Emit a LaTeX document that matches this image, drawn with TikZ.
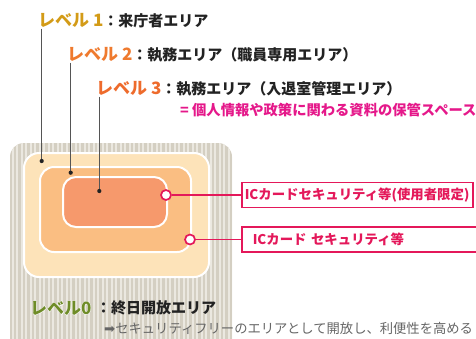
\documentclass[tikz,border=0pt]{standalone}
\usepackage{fontspec}
\setmainfont{Noto Sans CJK JP}
\newfontfamily\arrowfont{DejaVu Sans}
\newfontfamily\halofont{Noto Sans CJK JP}[UprightFont=* Bold, FakeBold=6]
\definecolor{goldc}{HTML}{D39B17}
\definecolor{orangeb}{HTML}{EF7A2E}
\definecolor{orangec}{HTML}{EE6B2C}
\definecolor{magentac}{HTML}{E5188A}
\definecolor{pinkc}{HTML}{E4185A}
\definecolor{lvA}{HTML}{FDE3B9}
\definecolor{lvB}{HTML}{FABE82}
\definecolor{lvC}{HTML}{F6996C}
\definecolor{stripeA}{HTML}{D4CFC2}
\definecolor{stripeB}{HTML}{EBE8E0}
\definecolor{greenc}{HTML}{6F8C28}
\definecolor{grayc}{HTML}{666666}
\definecolor{leadc}{HTML}{555555}
\definecolor{textc}{HTML}{222222}
\begin{document}
\begin{tikzpicture}[x=1pt,y=-1pt,
  zone/.style={draw=white, line width=2pt, inner sep=0pt},
  lab/.style={anchor=west, inner sep=0pt, text=textc, font=\bfseries},
  lead/.style={draw=leadc, line width=1.4pt},
  leaddot/.style={circle, fill=textc, inner sep=0pt, minimum size=4.2pt},
  ring/.style={circle, draw=pinkc, fill=white, line width=1.7pt, inner sep=0pt, minimum size=10pt},
  pinkline/.style={draw=pinkc, line width=1.5pt},
  secbox/.style={draw=pinkc, line width=1.6pt, fill=white, anchor=west, inner ysep=0pt, minimum height=25pt, text=pinkc, font=\bfseries\fontsize{13.4}{13.4}\selectfont, align=left}
]
\useasboundingbox (0,0) rectangle (476,338);
\clip (0,0) rectangle (476,338);
\fill[white] (0,0) rectangle (476,338);

% level 0 striped area
\begin{scope}
  \clip[rounded corners=14pt] (10,143) rectangle (232,380);
  \fill[stripeA] (10,143) rectangle (232,380);
  \foreach \i in {0,...,49} \fill[stripeB] ({11.5+4.5*\i},143) rectangle ({13.5+4.5*\i},380);
\end{scope}

% zones
\node[zone, fill=lvA, rounded corners=15pt, minimum width=185pt, minimum height=124pt] (z1) at (116.5,215) {};
\node[zone, fill=lvB, rounded corners=14pt, minimum width=151pt, minimum height=85pt] (z2) at (115.5,209.5) {};
\node[zone, fill=lvC, rounded corners=13pt, minimum width=104pt, minimum height=50pt] (z3) at (115,202) {};

% headings
\node[lab] (t1) at (38,21) {{\color{goldc}\fontsize{17}{17}\selectfont レベル 1}{\fontsize{15}{15}\selectfont ：来庁者エリア}};
\node[lab] (t2) at (67,55) {{\color{orangeb}\fontsize{17}{17}\selectfont レベル 2}{\fontsize{15}{15}\selectfont ：執務エリア（職員専用エリア）}};
\node[lab] (t3) at (96,89) {{\color{orangec}\fontsize{17}{17}\selectfont レベル 3}{\fontsize{15}{15}\selectfont ：執務エリア（入退室管理エリア）}};
\node[lab, text=magentac, font=\bfseries\fontsize{14.3}{14.3}\selectfont] (t4) at (180,110) {= 個人情報や政策に関わる資料の保管スペース};

% leader lines
\coordinate (d1) at (41.7,161);
\coordinate (d2) at (70.7,172.7);
\coordinate (d3) at (99.3,191);
\draw[lead] (t1.south -| d1) -- (d1);
\draw[lead] (t2.south -| d2) -- (d2);
\draw[lead] (t3.south -| d3) -- (d3);
\node[leaddot] at (d1) {};
\node[leaddot] at (d2) {};
\node[leaddot] at (d3) {};

% security boxes
\node[secbox, text width=225pt, inner xsep=3pt] (b1) at (241,195) {ICカードセキュリティ等(使用者限定)};
\node[secbox, text width=240pt, inner xsep=11pt] (b2) at (241,239.5) {ICカード セキュリティ等};
\node[ring] (c1) at (166,195) {};
\node[ring] (c2) at (190,239.5) {};
\draw[pinkline] (c1.east) -- (c1.east -| b1.west);
\draw[pinkline] (c2.east) -- (c2.east -| b2.west);

% level 0
\node[lab, text=white, font=\halofont\fontsize{17}{17}\selectfont] (t0halo) at (30,308) {レベル0};
\node[lab, text=greenc, font=\bfseries\fontsize{17}{17}\selectfont] (t0) at (30,308) {レベル0};
\node[lab, font=\bfseries\fontsize{15}{15}\selectfont] (t0b) at (96,308) {：終日開放エリア};
\node[lab, text=grayc, font=\fontsize{13.3}{13.3}\selectfont] (t0c) at (104,328) {{\arrowfont ➡}セキュリティフリーのエリアとして開放し、利便性を高める};
\end{tikzpicture}
\end{document}
